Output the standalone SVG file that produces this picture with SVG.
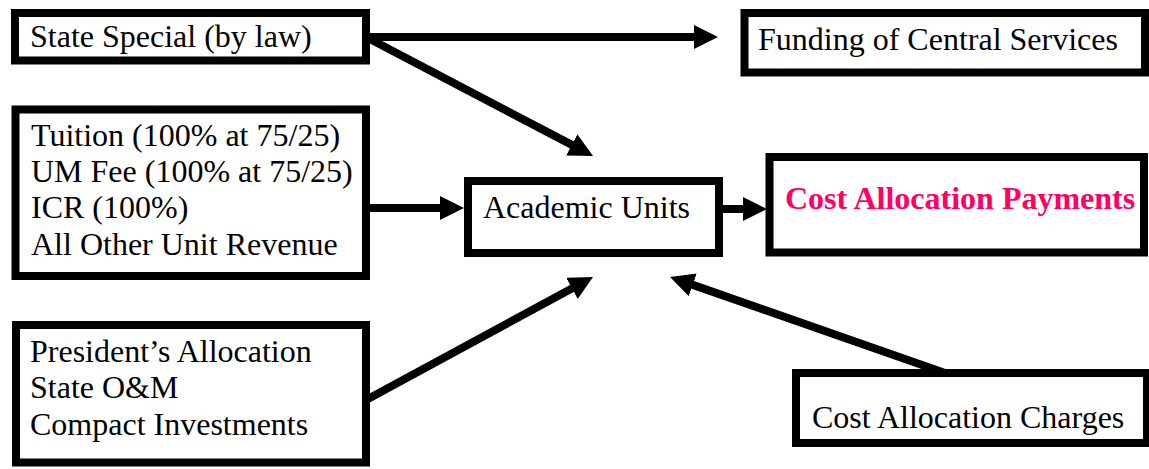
<svg xmlns="http://www.w3.org/2000/svg" width="1149" height="469" viewBox="0 0 1149 469">
<style>
.box{fill:#fff;stroke:#000;stroke-width:8}
text{font-family:"Liberation Serif","Times New Roman",serif;font-size:32px;fill:#000}
.b{font-weight:bold;fill:#FF0066}
.c{stroke:#000;stroke-width:8;fill:none;marker-end:url(#ah)}
</style>
<defs>
<marker id="ah" viewBox="0 0 24 24" refX="12" refY="12" markerWidth="24" markerHeight="24" markerUnits="userSpaceOnUse" orient="auto">
<path d="M0,0 L24,12 L0,24 Z" fill="#000"/>
</marker>
</defs>
<rect width="1149" height="469" fill="#fff"/>
<g id="state-special">
<rect class="box" x="15" y="13" width="351" height="47.5"/>
<text x="30" y="47">State Special (by law)</text>
</g>
<g id="funding-central">
<rect class="box" x="744.5" y="13" width="400.5" height="59.5"/>
<text x="758" y="50">Funding of Central Services</text>
</g>
<g id="tuition">
<rect class="box" x="15.5" y="109.5" width="350.5" height="166.5"/>
<text x="31" y="146">Tuition (100% at 75/25)</text>
<text x="31" y="182">UM Fee (100% at 75/25)</text>
<text x="31" y="218">ICR (100%)</text>
<text x="31" y="255">All Other Unit Revenue</text>
</g>
<g id="academic-units">
<rect class="box" x="468" y="181" width="251" height="72"/>
<text x="483" y="218">Academic Units</text>
</g>
<g id="cost-allocation-payments">
<rect class="box" x="769.5" y="157" width="374.5" height="95.5"/>
<text class="b" x="785" y="209">Cost Allocation Payments</text>
</g>
<g id="president">
<rect class="box" x="16" y="325" width="350" height="137.5"/>
<text x="30" y="362">President’s Allocation</text>
<text x="30" y="398">State O&amp;M</text>
<text x="30" y="435">Compact Investments</text>
</g>
<g id="cost-allocation-charges">
<rect class="box" x="796" y="373" width="351" height="70"/>
<text x="812" y="428">Cost Allocation Charges</text>
</g>
<g id="connectors">
<line class="c" x1="366" y1="37" x2="706" y2="37"/>
<line class="c" x1="366" y1="37" x2="582.4" y2="150.4"/>
<line class="c" x1="366" y1="208" x2="452" y2="208"/>
<line class="c" x1="366" y1="400" x2="582.5" y2="282.7"/>
<line class="c" x1="945" y1="373" x2="681.4" y2="280.9"/>
<line class="c" x1="719" y1="209" x2="755" y2="209"/>
</g>
</svg>
